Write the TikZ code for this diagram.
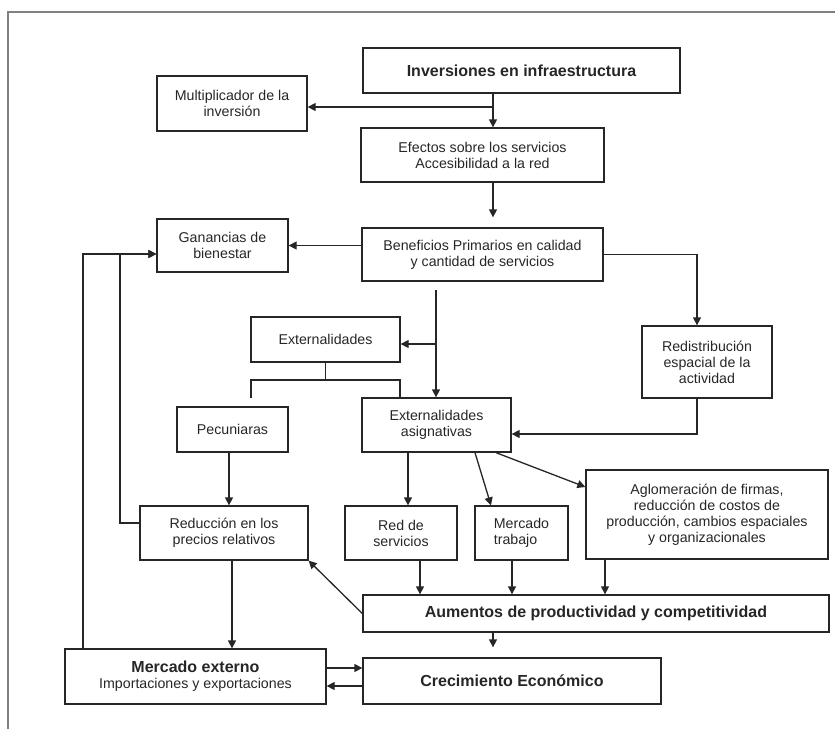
\documentclass[tikz,border=0pt]{standalone}
\usepackage{fontspec}
\setmainfont{Liberation Sans}
\usetikzlibrary{arrows.meta, positioning}
\tikzset{>={Triangle[length=8pt,width=8pt]},
    box/.style={rectangle,draw,align=center,inner sep=2pt,
        font=\fontsize{14.2}{16}\selectfont},
    boldbox/.style={box,font=\fontsize{16}{18}\selectfont\bfseries},
    frame/.style={draw=black!50,line width=2.2pt}}

\begin{document}
\begin{tikzpicture}[x=1pt,y=-1pt,line width=1.3pt,color=black!85]
\useasboundingbox (0,0) rectangle (835,729);
\draw[frame] (8,729) -- (8,12) -- (835,12);

\node[boldbox, minimum width=317pt, minimum height=45pt] (inv)   at (521.5,70.5)  {Inversiones en infraestructura};
\node[box,     minimum width=150pt, minimum height=55pt] (mult)  at (232,103.5)   {Multiplicador de la\\inversión};
\node[box,     minimum width=243pt, minimum height=54pt] (efec)  at (482.5,155)   {Efectos sobre los servicios\\Accesibilidad a la red};
\node[box,     minimum width=131pt, minimum height=53pt] (gan)   at (222.5,245.5) {Ganancias de\\bienestar};
\node[box,     minimum width=241pt, minimum height=53pt] (ben)   at (482.5,254.5) {Beneficios Primarios en calidad\\y cantidad de servicios};
\node[box,     minimum width=149pt, minimum height=45pt] (ext)   at (325.5,339.5) {Externalidades};
\node[box,     minimum width=130pt, minimum height=72pt] (redis) at (707,362)     {Redistribución\\espacial de la\\actividad};
\node[box,     minimum width=111pt, minimum height=45pt] (pec)   at (232.5,429.5) {Pecuniaras};
\node[box,     minimum width=149pt, minimum height=54pt] (exta)  at (436.5,425)   {Externalidades\\asignativas};
\node[box,     minimum width=242pt, minimum height=89pt] (aglo)  at (707,514.5)   {Aglomeración de firmas,\\reducción de costos de\\producción, cambios espaciales\\y organizacionales};
\node[box,     minimum width=168pt, minimum height=54pt] (red)   at (224,533)     {Reducción en los\\precios relativos};
\node[box,     minimum width=112pt, minimum height=54pt] (rser)  at (401,533)     {Red de\\servicios};
\node[box,     minimum width=93pt,  minimum height=54pt, align=left] (mtra) at (521.5,533) {Mercado\\trabajo};
\node[boldbox, minimum width=466pt, minimum height=37pt] (aum)   at (596,613.5)   {Aumentos de productividad y competitividad};
\node[box,     minimum width=261pt, minimum height=55pt] (mext)  at (195.5,676.5) {{\fontsize{16}{18}\selectfont\bfseries Mercado externo}\\Importaciones y exportaciones};
\node[boldbox, minimum width=298pt, minimum height=46pt] (crec)  at (512,681)     {Crecimiento Económico};

\coordinate (j1) at (493,107);
\coordinate (j2) at (697,254.5);
\coordinate (j3) at (697,434);
\coordinate (j4) at (436,290);
\coordinate (j5) at (436,344);
\coordinate (j6) at (325.5,380);
\coordinate (j7) at (251,398);
\coordinate (j8) at (400,380);
\coordinate (l1) at (120,254);
\coordinate (l2) at (83,254);
\coordinate (c1) at (408,0);
\coordinate (c2) at (420,0);
\coordinate (c3) at (512,0);
\coordinate (c4) at (605,0);
\coordinate (c5) at (232,0);
\coordinate (c6) at (229,0);
\coordinate (r1) at (0,668);
\coordinate (r2) at (0,686);

\draw[->] (j1 |- inv.south) -- (j1 |- efec.north);
\draw[->] (j1) -- (j1 -| mult.east);
\draw[->, shorten >=10pt] (j1 |- efec.south) -- (j1 |- ben.north);
\draw[->] (gan.east -| ben.west) -- (gan.east);
\draw[->] (ben.east) -- (j2) -- (j2 |- redis.north);
\draw[->] (j3 |- redis.south) -- (j3) -- (j3 -| exta.east);
\draw[->] (j4) -- (j4 |- exta.north);
\draw[->] (j5) -- (j5 -| ext.east);
\draw (ext.south) -- (j6);
\draw (j7) |- (j8) -- (j8 |- exta.north);
\draw[->] (c6 |- pec.south) -- (c6 |- red.north);
\draw[->] (c1 |- exta.south) -- (c1 |- rser.north);
\draw[->] ([xshift=38.5pt]exta.south) -- ([xshift=-30.5pt]mtra.north);
\draw[->] ([xshift=59.5pt]exta.south) -- ([yshift=27.5pt]aglo.west);
\draw[->] ([yshift=10pt]red.west) -| (l1) -- (l1 -| gan.west);
\draw[->] (l2 |- mext.north) -- (l2) -- (l2 -| gan.west);
\draw[->] (c2 |- rser.south) -- (c2 |- aum.north);
\draw[->] (c3 |- mtra.south) -- (c3 |- aum.north);
\draw[->] (c4 |- aglo.south) -- (c4 |- aum.north);
\draw[->] (aum.west) -- (red.south east);
\draw[->] (c5 |- red.south) -- (c5 |- mext.north);
\draw[->, shorten >=10pt] (j1 |- aum.south) -- (j1 |- crec.north);
\draw[->] (mext.east |- r1) -- (crec.west |- r1);
\draw[->] (crec.west |- r2) -- (mext.east |- r2);
\end{tikzpicture}
\end{document}
